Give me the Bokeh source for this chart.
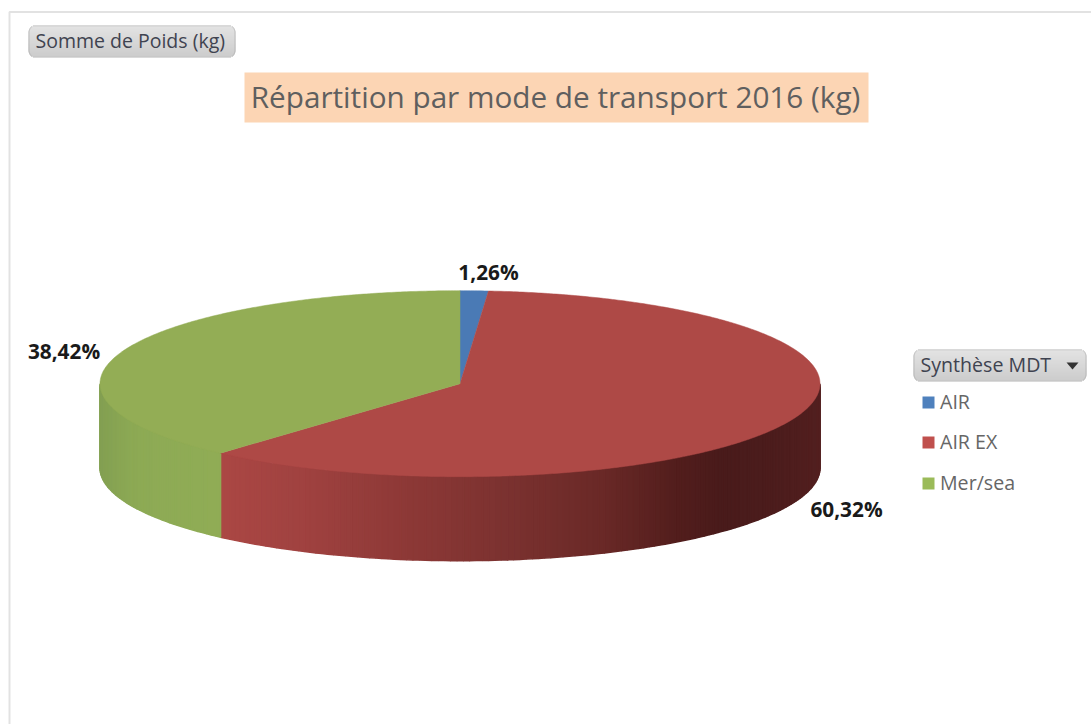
import numpy as np
from bokeh.plotting import figure
from bokeh.models import Range1d, Label
from bokeh.embed import file_html
from bokeh.resources import INLINE

# data
categories = ["AIR", "AIR EX", "Mer/sea"]
shares = [1.26, 60.32, 38.42]
title_text = "Répartition par mode de transport 2016 (kg)"
filter_label = "Somme de Poids (kg)"
legend_title = "Synthèse MDT"

# style
top_colors = ["#4A7AB5", "#AE4946", "#93AD55"]
legend_colors = ["#4F81BD", "#C0504D", "#9BBB59"]
side_stops = {
    "AIR": ([100, 820], ["#4A7AB5", "#2A4A70"]),
    "AIR EX": ([220, 300, 400, 500, 600, 680, 720, 760, 820],
               ["#AB4744", "#A04240", "#8E3937", "#7C3230", "#6A2927", "#511D1C", "#491B1B", "#4B1C1C", "#521F1F"]),
    "Mer/sea": ([100, 130, 160, 220], ["#83A052", "#8CA954", "#8EAB55", "#90AC55"]),
}
CX, CY, RX, RY, DEPTH = 459.5, 383.2, 360.0, 93.0, 84.0
FONT = "Open Sans"
LABEL_POS = [(488, 271), (846, 508), (63.5, 350)]


def hex2rgb(h):
    return np.array([int(h[i:i + 2], 16) for i in (1, 3, 5)], float)


def side_color(cat, x):
    xs, cs = side_stops[cat]
    rgb = [np.interp(x, xs, [hex2rgb(c)[k] for c in cs]) for k in range(3)]
    return "#%02x%02x%02x" % tuple(int(round(v)) for v in rgb)


def ell(theta):
    return CX + RX * np.sin(theta), CY - RY * np.cos(theta)


W, H = 1091, 724
p = figure(width=W, height=H, x_range=Range1d(0, W), y_range=Range1d(H, 0),
           toolbar_location=None, output_backend="svg", min_border=0, outline_line_color=None)
p.axis.visible = False
p.grid.visible = False

# chart frame
p.line([9, 9, W], [H, 11.5, 11.5], line_color="#E2E2E2", line_width=2)

# slices
edges = np.radians(np.concatenate([[0], np.cumsum(shares)]) * 3.6)

for cat, a, b in zip(categories, edges[:-1], edges[1:]):
    lo, hi = max(a, np.pi / 2), min(b, 1.5 * np.pi)
    if hi <= lo:
        continue
    ts = np.linspace(lo, hi, max(2, int(np.degrees(hi - lo)) + 1))
    xs, ys, cols = [], [], []
    for t0, t1 in zip(ts[:-1], ts[1:]):
        x0, y0 = ell(t0)
        x1, y1 = ell(t1)
        xs.append([x0, x1, x1, x0])
        ys.append([y0, y1, y1 + DEPTH, y0 + DEPTH])
        cols.append(side_color(cat, (x0 + x1) / 2))
    p.patches(xs, ys, fill_color=cols, line_color=cols, line_width=1.5)

for col, a, b in zip(top_colors, edges[:-1], edges[1:]):
    ts = np.linspace(a, b, max(3, int(np.degrees(b - a)) * 2 + 1))
    x, y = ell(ts)
    p.patch(np.r_[CX, x], np.r_[CY, y], fill_color=col, line_color=col, line_width=0.5)


def button(x0, x1, y0, y1, r=7):
    rows = np.arange(y0, y1, 1.0)
    n = len(rows)
    for i, yy in enumerate(rows):
        dy = max(y0 + r - (yy + .5), (yy + .5) - (y1 - r), 0)
        inset = r - np.sqrt(max(r * r - dy * dy, 0))
        g = 218 - 30 * i / (n - 1)
        c = "#%02x%02x%02x" % (int(g), int(g), int(g))
        edge = "#B4B4B4"
        p.quad(left=x0 + inset, right=x1 - inset, bottom=yy + 1, top=yy,
               fill_color=edge if i in (0, n - 1) else c, line_color=None)
        if 0 < i < n - 1:
            p.quad(left=x0 + inset, right=x0 + inset + 1, bottom=yy + 1, top=yy, fill_color=edge, line_color=None)
            p.quad(left=x1 - inset - 1, right=x1 - inset, bottom=yy + 1, top=yy, fill_color=edge, line_color=None)


def text(x, y, s, size, color, bold=False, align="left"):
    p.add_layout(Label(x=x, y=y, text=s, text_font=FONT, text_font_size=f"{size}px", text_color=color,
                       text_font_style="bold" if bold else "normal", text_align=align,
                       text_baseline="middle"))


# page-filter button and title
button(28, 235, 25, 57)
text(35, 40, filter_label, 19.5, "#3F4350")
p.quad(left=244, right=868, top=72, bottom=122, fill_color="#FCD5B4", line_color=None)
text(555, 96, title_text, 29.7, "#5F5F5F", align="center")

# data labels
for s, (lx, ly) in zip(shares, LABEL_POS):
    text(lx, ly, f"{s:.2f}%".replace(".", ","), 20.8, "#1A1A1A", bold=True, align="center")

# legend
button(913, 1086, 349, 381)
text(920, 364, legend_title, 19.6, "#3F4350")
p.patch([1066, 1078, 1072], [362, 362, 369], fill_color="#333333", line_color=None)
for cat, c, ly in zip(categories, legend_colors, [402, 442, 483]):
    p.quad(left=922, right=934, top=ly - 6, bottom=ly + 6, fill_color=c, line_color=None)
    text(939.5, ly - 1, cat, 19.6, "#666666")

open("out.html", "w").write(file_html(p, INLINE))
